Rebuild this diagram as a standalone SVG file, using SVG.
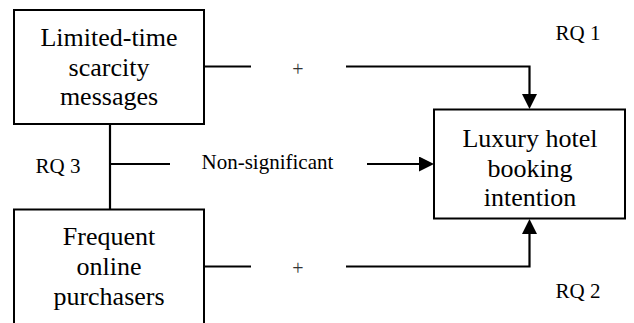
<svg xmlns="http://www.w3.org/2000/svg" width="634" height="323" viewBox="0 0 634 323">
  <style>
    .box { fill: #ffffff; stroke: #000000; stroke-width: 2; }
    .conn { fill: none; stroke: #000000; stroke-width: 2.2; }
    .node-text { font-family: "Liberation Serif", "Times New Roman", serif; font-size: 26px; fill: #000000; text-anchor: middle; }
    .label { font-family: "Liberation Serif", "Times New Roman", serif; font-size: 21px; fill: #000000; }
    .plus { font-family: "Liberation Serif", "Times New Roman", serif; font-size: 20px; fill: #333333; text-anchor: middle; }
  </style>
  <defs>
    <marker id="arrow" viewBox="0 0 15 15" markerWidth="15" markerHeight="15" markerUnits="userSpaceOnUse" refX="2" refY="7.5" orient="auto">
      <path d="M0,0 L15,7.5 L0,15 z" fill="#000000"/>
    </marker>
  </defs>
  <rect width="634" height="323" fill="#ffffff"/>

  <g id="node-scarcity">
    <rect class="box" x="14" y="10" width="190" height="114"/>
    <text class="node-text" x="109" y="45.5">Limited-time</text>
    <text class="node-text" x="109" y="75.5">scarcity</text>
    <text class="node-text" x="109" y="105">messages</text>
  </g>

  <g id="node-frequent">
    <rect class="box" x="14" y="209.5" width="190" height="130"/>
    <text class="node-text" x="109" y="245">Frequent</text>
    <text class="node-text" x="109" y="275">online</text>
    <text class="node-text" x="109" y="305">purchasers</text>
  </g>

  <g id="node-intention">
    <rect class="box" x="434" y="109.5" width="191" height="109"/>
    <text class="node-text" x="530" y="147">Luxury hotel</text>
    <text class="node-text" x="530" y="176.5">booking</text>
    <text class="node-text" x="530" y="206">intention</text>
  </g>

  <g id="connectors">
    <path class="conn" d="M204,66.5 H251"/>
    <path class="conn" d="M346,66.5 H529.5 V96" marker-end="url(#arrow)"/>
    <path class="conn" d="M110,124 V209.5"/>
    <path class="conn" d="M110,164 H170"/>
    <path class="conn" d="M367,164 H421" marker-end="url(#arrow)"/>
    <path class="conn" d="M204,266.5 H251"/>
    <path class="conn" d="M346,266.5 H529.5 V232" marker-end="url(#arrow)"/>
  </g>

  <g id="labels">
    <text class="plus" x="298" y="75.5">+</text>
    <text class="plus" x="298" y="275">+</text>
    <text class="label" x="201.5" y="168.5">Non-significant</text>
    <text class="label" x="35.5" y="172.5">RQ 3</text>
    <text class="label" x="555.5" y="40">RQ 1</text>
    <text class="label" x="555.5" y="298">RQ 2</text>
  </g>
</svg>
